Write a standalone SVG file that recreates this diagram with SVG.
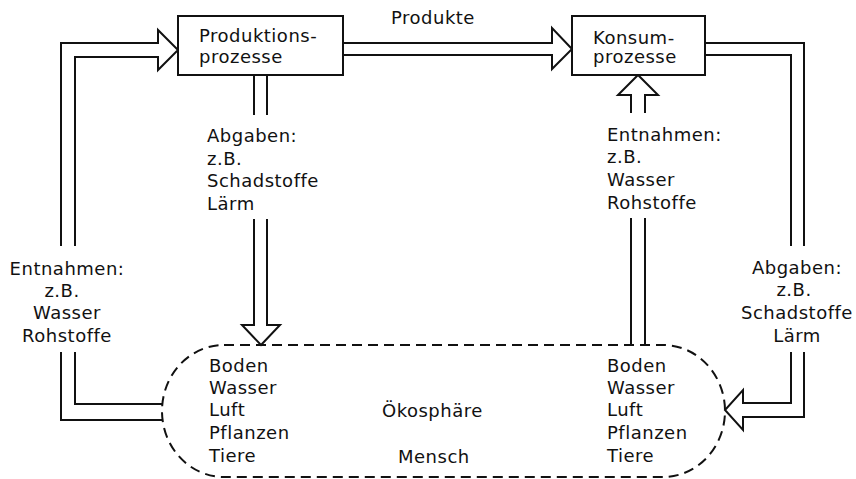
<svg xmlns="http://www.w3.org/2000/svg" width="856" height="479" viewBox="0 0 856 479">
  <style>
    .ln { fill: none; stroke: #111; stroke-width: 2; stroke-linejoin: miter; }
    .box { fill: #fff; stroke: #111; stroke-width: 2; }
    .eco { fill: none; stroke: #111; stroke-width: 2; stroke-dasharray: 10 6; }
    text { font-family: "DejaVu Sans", "Liberation Sans", sans-serif; font-size: 18px; fill: #111; letter-spacing: 0.5px; }
    .c { text-anchor: middle; }
  </style>
  <rect width="856" height="479" fill="#fff"/>

  <g id="connectors">
    <!-- Entnahmen into Produktionsprozesse (left) -->
    <path class="ln" d="M61,246 V43 H158 V30 L178,50 L158,70 V57 H75 V246"/>
    <path class="ln" d="M61,352 V420 H162 M75,352 V404 H162"/>
    <!-- Produkte -->
    <path class="ln" d="M343,43 H552 V28 L572,49 L552,69 V55 H343"/>
    <!-- Abgaben from Produktionsprozesse -->
    <path class="ln" d="M254,75 V115 M267,75 V115"/>
    <path class="ln" d="M254,219 V325 H242 L261,345 L280,325 H267 V219"/>
    <!-- Entnahmen into Konsumprozesse -->
    <path class="ln" d="M631,113 V95 H618 L638,75 L658,95 H645 V113"/>
    <path class="ln" d="M631,218 V345 M645,218 V345"/>
    <!-- Abgaben from Konsumprozesse (right) -->
    <path class="ln" d="M705,43 H804 V246 M705,55 H791 V246"/>
    <path class="ln" d="M804,352 V417 H743 V430 L725,410 L743,390 V403 H791 V352"/>
  </g>

  <g id="produktion">
    <rect class="box" x="178" y="16" width="165" height="59"/>
    <text x="199" y="42">Produktions-</text>
    <text x="199" y="63">prozesse</text>
  </g>

  <g id="konsum">
    <rect class="box" x="572" y="16" width="133" height="59"/>
    <text x="593" y="44">Konsum-</text>
    <text x="593" y="63">prozesse</text>
  </g>

  <g id="label-produkte">
    <text x="391" y="24">Produkte</text>
  </g>

  <g id="label-abgaben-prod">
    <text x="207" y="142">Abgaben:</text>
    <text x="207" y="165">z.B.</text>
    <text x="207" y="187">Schadstoffe</text>
    <text x="207" y="210">Lärm</text>
  </g>

  <g id="label-entnahmen-kons">
    <text x="607" y="141">Entnahmen:</text>
    <text x="607" y="163">z.B.</text>
    <text x="607" y="186">Wasser</text>
    <text x="607" y="209">Rohstoffe</text>
  </g>

  <g id="label-entnahmen-prod">
    <text class="c" x="67" y="275">Entnahmen:</text>
    <text class="c" x="62" y="297">z.B.</text>
    <text class="c" x="67" y="319">Wasser</text>
    <text class="c" x="67" y="342">Rohstoffe</text>
  </g>

  <g id="label-abgaben-kons">
    <text class="c" x="797" y="274">Abgaben:</text>
    <text class="c" x="794" y="296">z.B.</text>
    <text class="c" x="797" y="319">Schadstoffe</text>
    <text class="c" x="797" y="342">Lärm</text>
  </g>

  <g id="oekosphaere">
    <rect class="eco" x="162" y="345" width="563" height="132" rx="62" ry="66"/>
    <text x="209" y="372">Boden</text>
    <text x="209" y="394">Wasser</text>
    <text x="209" y="416">Luft</text>
    <text x="209" y="439">Pflanzen</text>
    <text x="209" y="462">Tiere</text>
    <text x="382" y="417">Ökosphäre</text>
    <text x="398" y="463">Mensch</text>
    <text x="607" y="372">Boden</text>
    <text x="607" y="394">Wasser</text>
    <text x="607" y="416">Luft</text>
    <text x="607" y="439">Pflanzen</text>
    <text x="607" y="462">Tiere</text>
  </g>
</svg>
